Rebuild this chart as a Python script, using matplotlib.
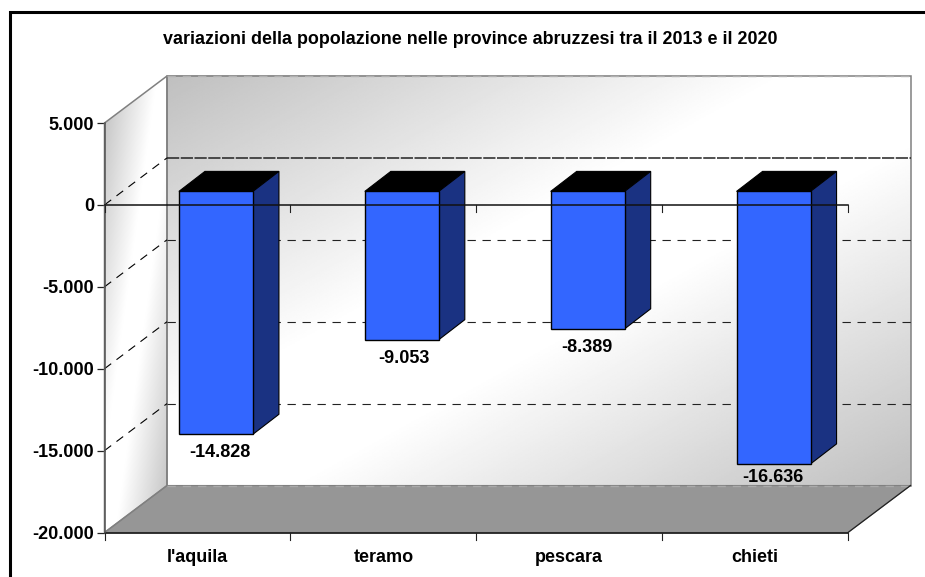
import numpy as np
import matplotlib
matplotlib.use("Agg")
import matplotlib.pyplot as plt
from matplotlib.patches import Polygon, Rectangle

categories = ["l'aquila", "teramo", "pescara", "chieti"]
values = [-14828, -9053, -8389, -16636]
value_labels = ["-14.828", "-9.053", "-8.389", "-16.636"]
yticks = [5000, 0, -5000, -10000, -15000, -20000]
ytick_labels = ["5.000", "0", "-5.000", "-10.000", "-15.000", "-20.000"]
title = "variazioni della popolazione nelle province abruzzesi tra il 2013 e il 2020"

W, H = 925, 577
plt.rcParams["font.family"] = ["Liberation Sans", "DejaVu Sans"]
fig = plt.figure(figsize=(W / 100, H / 100), dpi=100, facecolor="white")

# front plane of the 3D box, in pixels
L, R, T, B = 104.5, 848, 123, 532.5
ax = fig.add_axes([L / W, 1 - B / H, (R - L) / W, (B - T) / H])
ax.patch.set_visible(False)
for s in ax.spines.values():
    s.set_visible(False)

px_x = 4 / (R - L)
px_y = 25000 / (B - T)
DX, DY = 62.5 * px_x, 47 * px_y      # depth of the box
BW = 74 * px_x                        # bar front width
BDX, BDY = 26 * px_x, 20 * px_y      # bar depth
BAR_SHIFT = 18.5 * px_x               # bar offset in depth
OY = 13.5 * px_y

K = dict(clip_on=False)


def diagonal(x, y):
    d = (x + y) / 2
    return 0.75 + 0.25 * np.clip(1.2 * (1 - np.abs(2 * d - 1)), 0, 1)


def gradient(extent, clip=None, zorder=1):
    n = 300
    xx, yy = np.meshgrid(np.linspace(0, 1, n), np.linspace(0, 1, n))
    im = ax.imshow(diagonal(xx, yy), extent=extent, origin="upper", cmap="gray", vmin=0, vmax=1,
                   aspect="auto", zorder=zorder, interpolation="bilinear")
    if clip is not None:
        im.set_clip_path(clip)
    im.set_clip_box(fig.bbox)
    return im


# back wall
gradient((DX, 4 + DX, -20000 + DY, 5000 + DY))
ax.add_patch(Rectangle((DX, -20000 + DY), 4, 25000, fill=False, ec="#808080", lw=1.1, zorder=2, **K))

# left wall
wall_pts = [(0, 5000), (DX, 5000 + DY), (DX, -20000 + DY), (0, -20000)]
gradient((0, DX, -20000, 5000 + DY),
         clip=Polygon(wall_pts, closed=True, transform=ax.transData), zorder=1.5)
ax.add_patch(Polygon(wall_pts, closed=True, fc="none", ec="#808080", lw=1.1, zorder=2.5, **K))
ax.set_xlim(0, 4)
ax.set_ylim(-20000, 5000)

# floor
ax.add_patch(Polygon([(0, -20000), (DX, -20000 + DY), (4 + DX, -20000 + DY), (4, -20000)], closed=True,
                     fc="#969696", ec="#808080", lw=0.8, zorder=2, **K))
ax.plot([4, 4 + DX], [-20000, -20000 + DY], color="#222222", lw=0.9, zorder=3, **K)

# gridlines
DASH = (0, (7.5, 6))
for v in yticks[:-1]:
    if v == 5000:
        ax.plot([DX, 4 + DX], [v + DY, v + DY], color="#b0b0b0", lw=1, ls=(0, (6, 5)), zorder=2.6, **K)
        continue
    ax.plot([0, DX], [v, v + DY], color="black", lw=0.8, ls=DASH, zorder=2.6, **K)
    if v == 0:
        ax.plot([DX, 4 + DX], [v + DY, v + DY], color="#222222", lw=1.1, ls=(0, (8, 1)), zorder=2.6, **K)
    else:
        ax.plot([DX, 4 + DX], [v + DY, v + DY], color="#222222", lw=0.8, ls=DASH, zorder=2.6, **K)
ax.plot([DX, 4 + DX], [-20000 + DY] * 2, color="#aaaaaa", lw=1, ls=(0, (6, 5)), zorder=2.7, **K)

# bars
label_dx = [4, 2, -1, -1]
label_dy = [22.5, 23, 23, 18]
for i, v in enumerate(values):
    x0 = i + 0.5 - BW / 2 + BAR_SHIFT
    x1 = x0 + BW
    y0 = OY
    y1 = v + OY
    ax.add_patch(Polygon([(x0, y0), (x0 + BDX, y0 + BDY), (x1 + BDX, y0 + BDY), (x1, y0)], closed=True,
                         fc="black", ec="black", lw=0.8, zorder=4, **K))
    ax.add_patch(Polygon([(x1, y0), (x1 + BDX, y0 + BDY), (x1 + BDX, y1 + BDY), (x1, y1)], closed=True,
                         fc="#1a3282", ec="black", lw=0.8, zorder=4, **K))
    ax.add_patch(Rectangle((x0, y1), BW, y0 - y1, fc="#3366ff", ec="black", lw=1, zorder=5, **K))
    ax.text((x0 + x1) / 2 + label_dx[i] * px_x, y1 - label_dy[i] * px_y, value_labels[i],
            ha="center", va="baseline", fontsize=13, fontweight="bold", color="black", zorder=6, **K)

# axis lines and ticks
ax.plot([0, 4], [0, 0], color="#111111", lw=1.1, zorder=5.5, **K)
ax.plot([0, 4], [-20000, -20000], color="#222222", lw=1.3, zorder=3, **K)
ax.plot([0, 0], [-20000, 5000], color="#555555", lw=1.1, zorder=3, **K)
ax.set_xticks([])
ax.set_yticks(yticks)
ax.set_yticklabels(ytick_labels, fontsize=13, fontweight="bold")
ax.tick_params(axis="y", length=5.5, width=0.9, pad=2, color="#222222")
for x in range(5):
    ax.plot([x, x], [-20000, -20000 - 7 * px_y], color="#222222", lw=0.8, zorder=3, **K)
    ax.plot([x, x], [0, -7 * px_y], color="#222222", lw=0.8, zorder=5.5, **K)
for i, c in enumerate(categories):
    ax.text(i + 0.5, -20000 - 29 * px_y, c, ha="center", va="baseline", fontsize=13,
            fontweight="bold", **K)

fig.text(470.5 / W, 1 - 39.5 / H, title, ha="center", va="center", fontsize=12.9, fontweight="bold")

# outer frame (runs off the right and bottom of the picture)
fig.add_artist(Rectangle((9.5 / W, -0.05), 1.1, 1.05 - 12.2 / H, transform=fig.transFigure,
                         fill=False, ec="black", lw=2.2))

fig.savefig("out.png", dpi=100)
